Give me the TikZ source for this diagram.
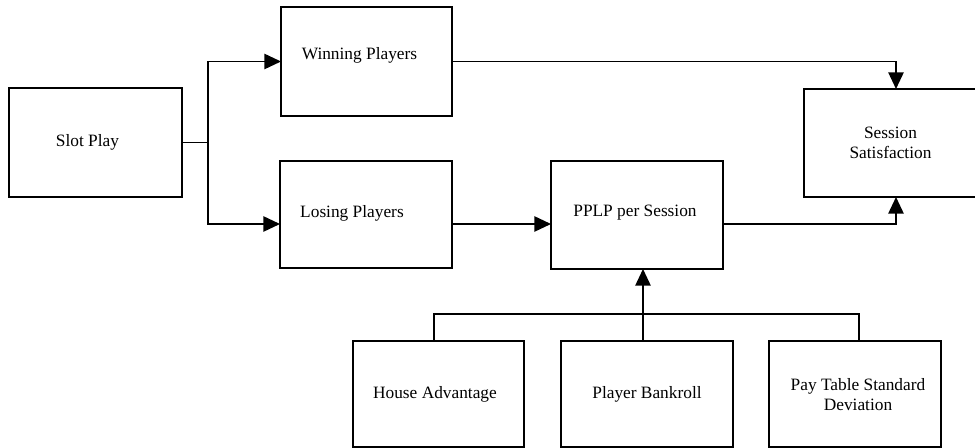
\documentclass[tikz,border=0pt]{standalone}
\usepackage{fontspec}
\setmainfont{Liberation Serif}
\usetikzlibrary{arrows.meta,calc}
\begin{document}
\begin{tikzpicture}[x=0.75pt,y=-0.75pt,
  txt/.style={font=\fontsize{13}{15}\selectfont},
  box/.style={draw, line width=1.2pt, inner sep=0pt, outer sep=0pt, txt, align=center},
  every label/.style={txt, align=center},
  conn/.style={line width=1.2pt},
  arr/.style={conn, -{Triangle[length=12.5pt,width=11.5pt]}}]
\useasboundingbox (0,0) rectangle (975,448);

\node[box, minimum width=129.75pt, minimum height=81.75pt,
      label={[shift={(-8,0)}]center:Slot Play}] (slot) at (95.5,142.5) {};
\node[box, minimum width=128.25pt, minimum height=81.75pt,
      label={[shift={(-7,-6)}]center:Winning Players}] (win) at (366.5,61.5) {};
\node[box, minimum width=129pt, minimum height=80.25pt,
      label={[shift={(-14,-1.5)}]center:Losing Players}] (lose) at (366,214.5) {};
\node[box, minimum width=129pt, minimum height=81pt,
      label={[shift={(-2,-2)}]center:PPLP per Session}] (pplp) at (637,215) {};
\node[box, minimum width=135pt, minimum height=81pt,
      label={[shift={(-3.5,0)}]center:Session\\Satisfaction}] (sess) at (894,143) {};
\node[box, minimum width=128.25pt, minimum height=79.5pt,
      label={[shift={(-3.5,0)}]center:House Advantage}] (house) at (438.5,394) {};
\node[box, minimum width=129pt, minimum height=79.5pt] (player) at (647,394) {Player Bankroll};
\node[box, minimum width=129pt, minimum height=79.5pt,
      label={[shift={(3,1)}]center:Pay Table Standard\\Deviation}] (pay) at (855,394) {};

% Slot Play split
\draw[conn] (slot.east) -- ++(26,0) coordinate (j);
\draw[arr] (j) |- (win.west);
\draw[arr] (j) |- ($(lose.west)+(0,9.5)$);

% Losing -> PPLP
\draw[arr] ($(lose.east)+(0,9.5)$) -- ($(pplp.west)+(0,9)$);

% Winning -> Session, PPLP -> Session
\draw[arr] (win.east) -| ($(sess.north)+(2,0)$);
\draw[arr] ($(pplp.east)+(0,9)$) -| ($(sess.south)+(2,0)$);

% bottom bus
\draw[conn] ($(house.north)+(-4.5,0)$) -- ++(0,-27) -| ($(pay.north)+(4,0)$);
\draw[arr] ($(player.north)+(-4,0)$) -- ($(pplp.south)+(6,0)$);
\end{tikzpicture}
\end{document}
